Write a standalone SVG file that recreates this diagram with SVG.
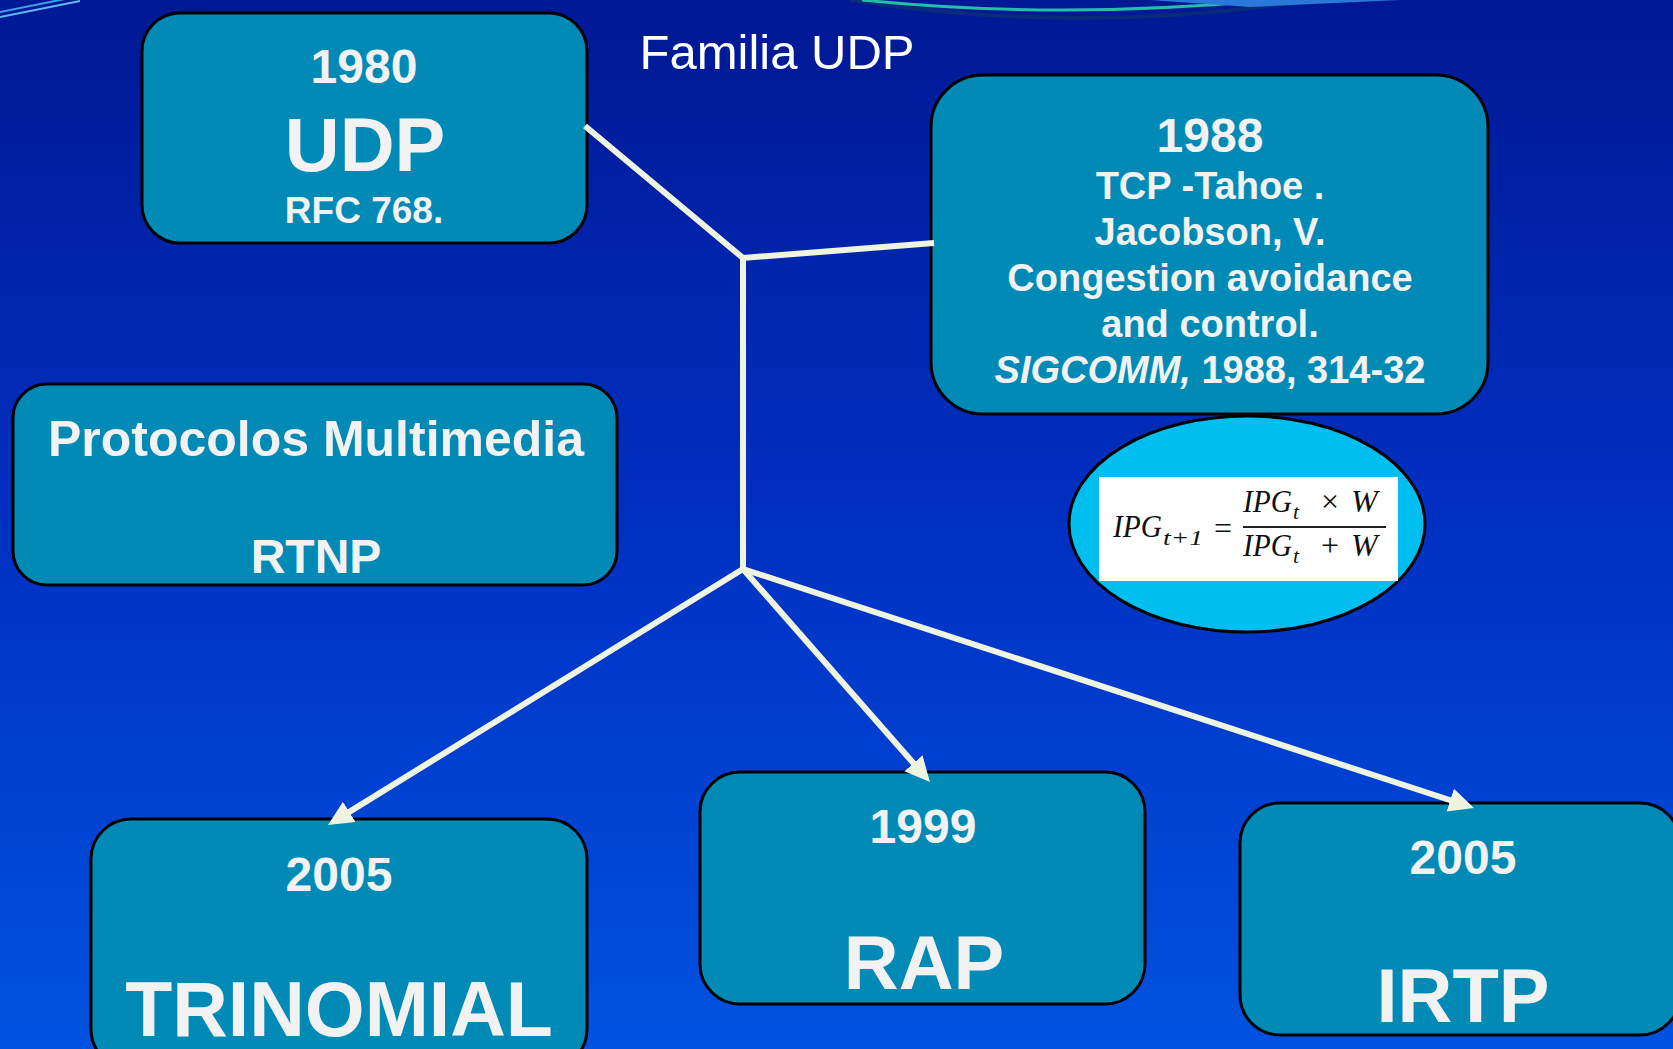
<svg xmlns="http://www.w3.org/2000/svg" width="1673" height="1049" viewBox="0 0 1673 1049">
<defs>
<linearGradient id="bg" x1="0" y1="0" x2="0" y2="1">
<stop offset="0" stop-color="#001894"/>
<stop offset="0.5" stop-color="#0030c2"/>
<stop offset="1" stop-color="#0052e0"/>
</linearGradient>
<marker id="ah" viewBox="0 -13 26 26" refX="9" refY="0" markerWidth="26" markerHeight="26" markerUnits="userSpaceOnUse" orient="auto">
<path d="M0,-12 L25,0 L0,12 z" fill="#eef4e0"/>
</marker>
<style>
.box{fill:#018ab5;stroke:#000;stroke-width:3}
.t{font-family:"Liberation Sans",Arial,sans-serif;font-weight:bold;fill:#f2f2f2;text-anchor:middle}
.conn{fill:none;stroke:#eef4e0;stroke-width:6}
.f{font-family:"Liberation Serif","Times New Roman",serif;font-style:italic;fill:#111;font-size:32px}
.s{font-family:"Liberation Serif","Times New Roman",serif;font-style:italic;fill:#111;font-size:22px}
.o{font-family:"Liberation Serif","Times New Roman",serif;fill:#111;font-size:32px;text-anchor:middle}
</style>
</defs>
<rect width="1673" height="1049" fill="url(#bg)"/>
<g id="decor">
<line x1="0" y1="12" x2="70" y2="-2" stroke="#3aa0e8" stroke-width="2"/>
<line x1="0" y1="17" x2="80" y2="1" stroke="#60b8f0" stroke-width="2"/>
<path d="M850,0 Q1080,36 1310,0" fill="none" stroke="#0a2a7a" stroke-width="4"/>
<path d="M862,0 Q1060,20 1270,0" fill="none" stroke="#22c0a8" stroke-width="3"/>
<path d="M1150,0 L1400,0 L1250,7 z" fill="#2a78d8"/>
</g>
<text x="777" y="69" font-family="Liberation Sans,Arial,sans-serif" font-size="49" fill="#fff" text-anchor="middle">Familia UDP</text>
<g id="udp">
<rect class="box" x="142" y="13" width="445" height="230" rx="38"/>
<text class="t" x="364" y="83" font-size="48">1980</text>
<text class="t" x="365" y="171" font-size="76">UDP</text>
<text class="t" x="364" y="223" font-size="37">RFC 768.</text>
</g>
<g id="tahoe">
<rect class="box" x="931" y="75" width="557" height="339" rx="52"/>
<text class="t" x="1210" y="152" font-size="48">1988</text>
<text class="t" x="1210" y="199" font-size="38">TCP -Tahoe .</text>
<text class="t" x="1210" y="245" font-size="38">Jacobson, V.</text>
<text class="t" x="1210" y="291" font-size="38">Congestion avoidance</text>
<text class="t" x="1210" y="337" font-size="38">and control.</text>
<text class="t" x="1210" y="383" font-size="38"><tspan font-style="italic">SIGCOMM,</tspan> 1988, 314-32</text>
</g>
<g id="formula">
<ellipse cx="1247" cy="524" rx="178" ry="108" fill="#00bef0" stroke="#000" stroke-width="3"/>
<rect x="1099" y="477" width="299" height="104" fill="#fff"/>
<text class="f" x="1113" y="537" textLength="49" lengthAdjust="spacingAndGlyphs">IPG</text>
<text class="s" x="1163" y="545" textLength="40" lengthAdjust="spacingAndGlyphs">t+1</text>
<text class="o" x="1223" y="539">=</text>
<text class="f" x="1243" y="512" textLength="49" lengthAdjust="spacingAndGlyphs">IPG</text>
<text class="s" x="1293" y="519">t</text>
<text class="o" x="1330" y="512">×</text>
<text class="f" x="1351" y="512">W</text>
<line x1="1243" y1="527" x2="1386" y2="527" stroke="#222" stroke-width="2"/>
<text class="f" x="1243" y="556" textLength="49" lengthAdjust="spacingAndGlyphs">IPG</text>
<text class="s" x="1293" y="563">t</text>
<text class="o" x="1330" y="556">+</text>
<text class="f" x="1351" y="556">W</text>
</g>
<g id="multimedia">
<rect class="box" x="13" y="384" width="604" height="201" rx="34"/>
<text class="t" x="316" y="456" font-size="50">Protocolos Multimedia</text>
<text class="t" x="316" y="573" font-size="48">RTNP</text>
</g>
<g id="trinomial">
<rect class="box" x="91" y="819" width="496" height="250" rx="40"/>
<text class="t" x="339" y="891" font-size="48">2005</text>
<text class="t" x="339" y="1036" font-size="77">TRINOMIAL</text>
</g>
<g id="rap">
<rect class="box" x="700" y="772" width="445" height="232" rx="40"/>
<text class="t" x="923" y="843" font-size="48">1999</text>
<text class="t" x="924" y="989" font-size="76">RAP</text>
</g>
<g id="irtp">
<rect class="box" x="1240" y="803" width="440" height="232" rx="40"/>
<text class="t" x="1463" y="874" font-size="48">2005</text>
<text class="t" x="1463" y="1022" font-size="76">IRTP</text>
</g>
<g id="connectors">
<polyline class="conn" points="585,126 743,258 934,243"/>
<line class="conn" x1="743" y1="258" x2="743" y2="571"/>
<line class="conn" x1="743" y1="569" x2="341.6" y2="816.6" marker-end="url(#ah)"/>
<line class="conn" x1="743" y1="569" x2="919.4" y2="770" marker-end="url(#ah)"/>
<line class="conn" x1="743" y1="569" x2="1458.8" y2="803" marker-end="url(#ah)"/>
</g>
</svg>
